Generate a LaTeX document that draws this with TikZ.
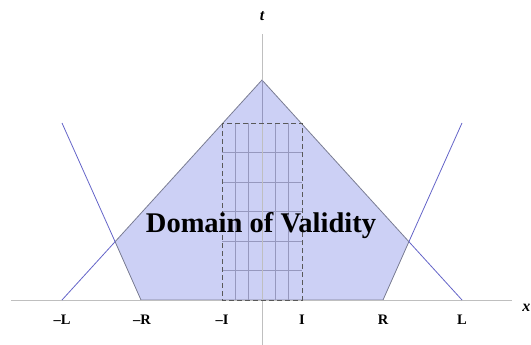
\documentclass[tikz,border=0pt]{standalone}
\usepackage{fontspec}
\setmainfont{Liberation Serif}
\begin{document}
\begin{tikzpicture}[x=1pt,y=-1pt]
\definecolor{fillc}{RGB}{204,208,245}
\definecolor{gridc}{RGB}{150,152,190}
\definecolor{bluec}{RGB}{100,100,200}
\tikzset{
  axis/.style={draw=black!25, line width=0.9pt},
  bluel/.style={draw=bluec, line width=0.8pt},
  region/.style={fill=fillc, draw=black!40!fillc, line width=0.8pt},
  gridl/.style={draw=gridc, line width=0.6pt},
  dashbox/.style={draw=black!65, dashed, dash pattern=on 5pt off 3pt, line width=0.8pt},
  lab/.style={font=\fontsize{14.5}{16}\selectfont\bfseries, inner sep=0pt},
  axlab/.style={font=\fontsize{16}{18}\selectfont\bfseries\itshape, inner sep=0pt}}
\useasboundingbox (0,0) rectangle (531,345);
% key points
\coordinate (mL) at (62,300);
\coordinate (mR) at (141,300);
\coordinate (pR) at (383,300);
\coordinate (pL) at (462,300);
\coordinate (apex) at (262,80);
\coordinate (ulL) at (62,123);
\coordinate (ulR) at (462,123);
\coordinate (xL) at (115.1,241.7);
\coordinate (xR) at (408.9,241.7);
\coordinate (boxA) at (222,123);
\coordinate (boxB) at (302,300);
% region
\path[region] (mR) -- (xL) -- (apex) -- (xR) -- (pR) -- cycle;
% grid in box
\foreach \i in {1,...,5} {
  \draw[gridl] (222+\i*13.333,123) -- (222+\i*13.333,300);
  \draw[gridl] (222,123+\i*29.5) -- (302,123+\i*29.5);
}
% axes
\coordinate (xa0) at (11,300);
\coordinate (xa1) at (512,300);
\coordinate (ta0) at (262,345);
\coordinate (ta1) at (262,34);
\draw[axis] (xa0) -- (xa1);
\draw[axis] (ta0) -- (ta1);
\draw[draw=gridc, line width=0.7pt] (262,123) -- (apex);
% blue lines
\draw[bluel] (ulL) -- (xL);
\draw[bluel] (mL) -- (xL);
\draw[bluel] (ulR) -- (xR);
\draw[bluel] (pL) -- (xR);
% dashed box
\draw[dashbox] (boxA) rectangle (boxB);
% text
\node[font=\fontsize{28.5}{30}\selectfont\bfseries, inner sep=0pt, anchor=base] (dom) at (261,232) {Domain of Validity};
\node[lab, anchor=base] (lmL) at (62,324) {–L};
\node[lab, anchor=base] (lmR) at (142,324) {–R};
\node[lab, anchor=base] (lmI) at (222,324) {–I};
\node[lab, anchor=base] (lpI) at (302,324) {I};
\node[lab, anchor=base] (lpR) at (383,324) {R};
\node[lab, anchor=base] (lpL) at (462,324) {L};
\node[axlab, anchor=base] (tl) at (262,21) {t};
\node[axlab, anchor=base east] (xl) at (530.5,311) {x};
\end{tikzpicture}
\end{document}
